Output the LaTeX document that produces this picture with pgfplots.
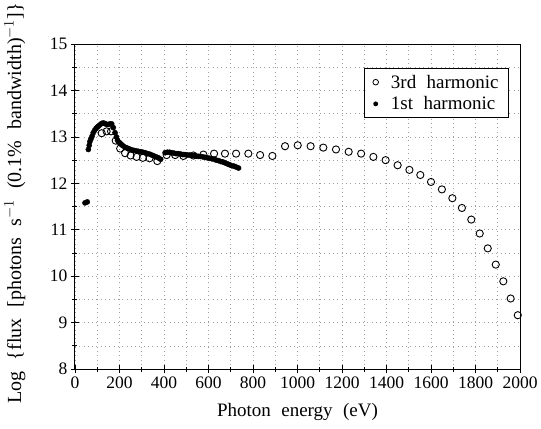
\documentclass[border=0pt]{standalone}
\usepackage{pgfplots}
\pgfplotsset{compat=1.18}
\usepackage{fontspec}
\setmainfont{Liberation Serif}
\newcommand{\ws}{\hspace{0.55em}}
\begin{document}
\begin{tikzpicture}
\begin{axis}[
  scale only axis,
  width=445pt, height=325pt,
  xmin=0, xmax=2000, ymin=8, ymax=15,
  xtick={0,200,...,2000}, ytick={8,9,...,15},
  minor x tick num=1, minor y tick num=1,
  grid=both,
  major grid style={gray!75, line width=0.6pt, dash pattern=on 0.8pt off 3.5pt},
  minor grid style={gray!75, line width=0.6pt, dash pattern=on 0.8pt off 3.5pt},
  tick pos=left, tick align=center,
  major tick length=8pt, minor tick length=5pt,
  tick style={black, line width=0.8pt},
  axis line style={line width=1pt},
  /pgf/number format/assume math mode=true,
  /pgf/number format/1000 sep={},
  ticklabel style={font=\fontsize{17.5}{20}\selectfont},
  xlabel={Photon\ws energy\ws (eV)},
  ylabel={Log\ws\{flux\ws [photons\ws s$^{-1}$\ws (0.1\%\ws bandwidth)$^{-1}$]\}},
  every axis x label/.style={font=\fontsize{19}{22}\selectfont,
    at={([yshift=-43pt]axis description cs:0.5,0)}, anchor=center},
  every axis y label/.style={font=\fontsize{20}{23}\selectfont,
    at={([xshift=-60pt]axis description cs:0,0.51)}, anchor=center, rotate=90},
  legend style={at={(rel axis cs:0.975,0.925)}, anchor=north east,
    font=\fontsize{19}{22}\selectfont, draw=black, line width=0.8pt,
    inner xsep=8pt, inner ysep=4pt, row sep=3pt},
  legend cell align=left,
]
% 3rd harmonic (open circles)
\addplot[forget plot, only marks, mark=o, mark size=3.6pt, black, line width=0.9pt] coordinates {
  (120,13.08) (142,13.12) (162,13.12) (183,12.92) (203,12.75) (225,12.65)
  (250,12.60) (277,12.57) (305,12.55) (335,12.54) (370,12.48) (412,12.61)
  (450,12.61) (487,12.59) (532,12.60) (577,12.62) (625,12.64) (674,12.64)
  (724,12.64) (779,12.64) (832,12.61) (887,12.59) (944,12.80) (1001,12.82)
  (1059,12.80) (1116,12.77) (1173,12.73) (1230,12.68) (1286,12.64)
  (1341,12.57) (1396,12.50) (1450,12.39) (1503,12.29) (1552,12.18)
  (1600,12.03) (1649,11.87) (1696,11.68) (1739,11.47) (1781,11.22)
  (1819,10.92) (1855,10.60) (1891,10.25) (1925,9.89) (1958,9.52) (1990,9.16)
};
% 1st harmonic (filled circles)
\addplot[forget plot, only marks, mark=*, mark size=2.6pt, black] coordinates {
  (45,11.58) (55,11.60)
  (60,12.73) (64,12.82) (67,12.90) (72,12.96) (77,13.02) (82,13.09)
  (88,13.14) (94,13.18) (100,13.21) (105,13.23) (112,13.26) (120,13.29)
  (127,13.30) (134,13.29) (142,13.27) (150,13.27) (158,13.28) (165,13.28)
  (172,13.20) (180,13.09) (186,13.00) (191,12.93) (196,12.89) (202,12.87)
  (208,12.84) (215,12.81) (225,12.78) (235,12.76) (245,12.74) (255,12.72)
  (265,12.71) (275,12.70) (285,12.69) (295,12.68) (305,12.67) (315,12.66)
  (325,12.64) (335,12.63) (345,12.61) (355,12.59) (365,12.57) (375,12.55)
  (385,12.52)
  (405,12.66) (415,12.67) (425,12.67) (435,12.66) (445,12.65) (455,12.64)
  (465,12.64) (475,12.63) (485,12.62) (495,12.62) (505,12.61) (515,12.61)
  (525,12.60) (535,12.60) (545,12.59) (555,12.58) (565,12.58) (575,12.57)
  (585,12.56) (595,12.55) (605,12.54) (615,12.53) (625,12.52) (635,12.50)
  (645,12.49) (655,12.47) (665,12.46) (675,12.44) (685,12.42) (695,12.40)
  (705,12.38) (715,12.37) (725,12.35) (735,12.33)
};
\addlegendimage{only marks, mark=o, mark size=2.8pt, black, line width=0.8pt}
\addlegendentry{\ws 3rd\ws harmonic}
\addlegendimage{only marks, mark=*, mark size=2pt, black}
\addlegendentry{\ws 1st\ws harmonic}
\end{axis}
\path ([shift={(-75pt,-59pt)}]current axis.south west) rectangle ([shift={(21pt,43pt)}]current axis.north east);
\end{tikzpicture}
\end{document}
